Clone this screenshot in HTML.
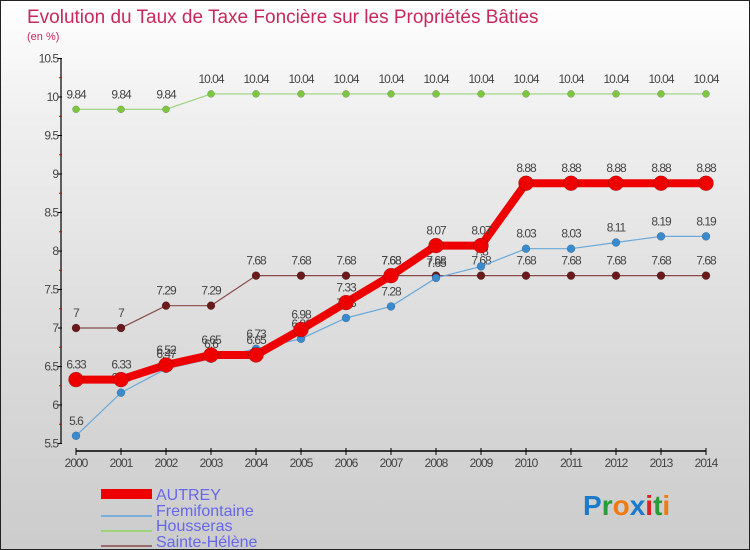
<!DOCTYPE html>
<html><head><meta charset="utf-8"><style>
body{margin:0}
#c{width:748px;height:548px;border:1px solid #222;background:linear-gradient(#fff,#f0f0f0 20%,#d8d8d8 70%,#ccc);position:relative;font-family:"Liberation Sans",sans-serif;overflow:hidden}
svg text{font-family:"Liberation Sans",sans-serif}
</style></head><body>
<div id="c">
<svg id="s" width="748" height="548">
<text x="26" y="22" font-size="19" fill="#c8285a">Evolution du Taux de Taxe Foncière sur les Propriétés Bâties</text>
<text x="26" y="39" font-size="11" fill="#c8285a">(en %)</text>
<g id="axes"></g><g id="series"></g>
<g>
<rect x="100" y="488" width="51" height="10" fill="#e00"/>
<text x="155" y="499" font-size="16" fill="#6666ee">AUTREY</text>
<line x1="100" y1="515" x2="151" y2="515" stroke="#7aafd8" stroke-width="2"/>
<text x="155" y="515" font-size="16" fill="#6666ee">Fremifontaine</text>
<line x1="100" y1="530" x2="151" y2="530" stroke="#9bd27a" stroke-width="2"/>
<text x="155" y="530" font-size="16" fill="#6666ee">Housseras</text>
<line x1="100" y1="545" x2="151" y2="545" stroke="#9a6a6a" stroke-width="2"/>
<text x="155" y="546" font-size="16" fill="#6666ee">Sainte-Hélène</text>
</g>
<g font-size="28" font-weight="bold">
<text x="582" y="514"><tspan fill="#1a7acc">P</tspan><tspan fill="#2a9a3a">r</tspan><tspan fill="#f07a10">o</tspan><tspan fill="#1a7acc">x</tspan><tspan fill="#e02020">i</tspan><tspan fill="#2a9a3a">t</tspan><tspan fill="#f07a10">i</tspan></text>
</g>
</svg></div>
<script>
const years=[2000,2001,2002,2003,2004,2005,2006,2007,2008,2009,2010,2011,2012,2013,2014];
const yTicks=[5.5,6,6.5,7,7.5,8,8.5,9,9.5,10,10.5];
const autrey=[6.33,6.33,6.52,6.65,6.65,6.98,7.33,7.68,8.07,8.07,8.88,8.88,8.88,8.88,8.88];
const fremifontaine=[5.6,6.16,6.47,6.6,6.73,6.86,7.13,7.28,7.65,7.8,8.03,8.03,8.11,8.19,8.19];
const housseras=[9.84,9.84,9.84,10.04,10.04,10.04,10.04,10.04,10.04,10.04,10.04,10.04,10.04,10.04,10.04];
const sainteHelene=[7,7,7.29,7.29,7.68,7.68,7.68,7.68,7.68,7.68,7.68,7.68,7.68,7.68,7.68];
const NS="http://www.w3.org/2000/svg";
const X=i=>75+i*45, Y=v=>96+(10-v)*77;
function mk(t,a,p){const e=document.createElementNS(NS,t);for(const k in a)e.setAttribute(k,a[k]);p.appendChild(e);return e;}
const ax=document.getElementById('axes');
let l=mk('line',{x1:60,y1:Y(10.5),x2:60,y2:Y(5.5),stroke:'#000','stroke-width':1.2},ax);


l=mk('line',{x1:75,y1:450,x2:705,y2:450,stroke:'#000','stroke-width':1.5},ax);


yTicks.forEach(v=>{mk('line',{x1:57,x2:61,y1:Y(v),y2:Y(v),stroke:'#000'},ax);
if(v<10.5)mk('line',{x1:58,x2:61,y1:Y(v+0.25),y2:Y(v+0.25),stroke:'#c00'},ax);
const t=mk('text',{x:57,y:Y(v)+4,'font-size':12,'text-anchor':'end',fill:'#444','letter-spacing':-1},ax);t.textContent=v;

});
years.forEach((y,i)=>{mk('line',{x1:X(i),x2:X(i),y1:447,y2:454,stroke:'#000'},ax);
const t=mk('text',{x:X(i),y:466,'font-size':12,'text-anchor':'middle',fill:'#444','letter-spacing':-1},ax);t.textContent=y;

});
const sg=document.getElementById('series');
function series(vals,name,color,dot,w,r){
 const g=mk('g',{},sg);
 
 
 mk('polyline',{points:vals.map((v,i)=>X(i)+','+Y(v)).join(' '),fill:'none',stroke:color,'stroke-width':w},g);
 vals.forEach((v,i)=>{const c=mk('circle',{cx:X(i),cy:Y(v),r:r,fill:dot,stroke:'rgba(0,0,0,0.3)','stroke-width':0.5},g);
 
 
 const t=mk('text',{x:X(i),y:Y(v)-11,'font-size':12,'text-anchor':'middle',fill:'#444','letter-spacing':-1},g);t.textContent=v;});
}
series(housseras,'housseras','#9bd27a','#7cc640',1.2,3.5);
series(sainteHelene,'sainte-helene','#8a4a4a','#6a1a1a',1.2,4);
series(fremifontaine,'fremifontaine','#6aa8d8','#3a8ad0',1.2,4);
series(autrey,'autrey','#ee0000','#ee0000',8,7.5);
</script>
</body></html>
